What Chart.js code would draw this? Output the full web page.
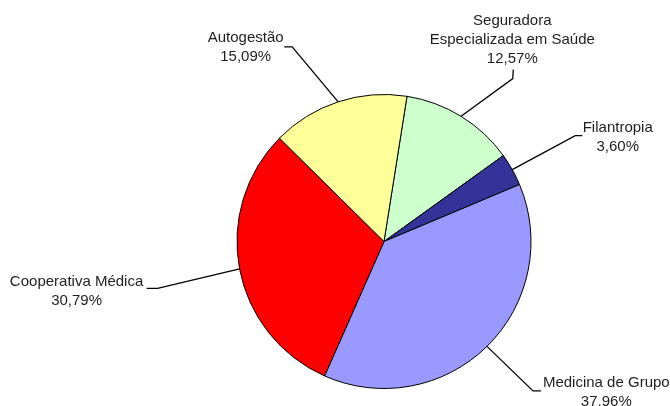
<!DOCTYPE html>
<html lang="pt-BR">
<head>
<meta charset="utf-8">
<title>Distribuição por modalidade</title>
<script src="https://cdn.jsdelivr.net/npm/chart.js@4"></script>
<style>
  html, body { margin: 0; padding: 0; background: #fff; }
  canvas { display: block; }
</style>
</head>
<body>
<canvas id="pieChart" width="670" height="406"></canvas>
<script>
// categories in clockwise order, starting just right of 12 o'clock
const categories = [
  ['Seguradora', 'Especializada em Saúde'],
  'Filantropia',
  'Medicina de Grupo',
  'Cooperativa Médica',
  'Autogestão'
];
const shares = [12.57, 3.60, 37.96, 30.79, 15.09];
const sliceColors = ['#ccffcc', '#333399', '#9999ff', '#ff0000', '#ffff99'];

// leader line geometry per slice, relative to the point on the rim at the slice's mid angle:
// elbow = bend of the line, tail = short end segment from the elbow,
// text = label centre x / first baseline, both relative to the elbow
const leaders = [
  { elbow: [51.7, -37.7], tail: [0.5, -9], text: [-0.5, -54] },
  { elbow: [63, -34], tail: [7, 0], text: [42.5, -3.4] },
  { elbow: [46, 44.5], tail: [8, 0], text: [73.3, -4] },
  { elbow: [-82, 19.4], tail: [-11, 0], text: [-81, -2.7] },
  { elbow: [-46, -55], tail: [-8, 0], text: [-46.5, -5] }
];

const fmtPct = v => v.toFixed(2).replace('.', ',') + '%';

const leaderLabels = {
  id: 'leaderLabels',
  afterDatasetsDraw(chart) {
    const ctx = chart.ctx;
    const meta = chart.getDatasetMeta(0);
    ctx.save();
    ctx.strokeStyle = '#000';
    ctx.lineWidth = 1.3;
    ctx.fillStyle = '#1e1e1e';
    ctx.font = '15px "Liberation Sans", Arial, sans-serif';
    ctx.textAlign = 'center';
    ctx.textBaseline = 'alphabetic';
    meta.data.forEach((arc, i) => {
      const { x, y, startAngle, endAngle, outerRadius } = arc.getProps(['x', 'y', 'startAngle', 'endAngle', 'outerRadius'], true);
      const mid = (startAngle + endAngle) / 2;
      const ex = x + Math.cos(mid) * outerRadius;
      const ey = y + Math.sin(mid) * outerRadius;
      const L = leaders[i];
      const bx = ex + L.elbow[0], by = ey + L.elbow[1];
      ctx.beginPath();
      ctx.moveTo(ex, ey);
      ctx.lineTo(bx, by);
      ctx.lineTo(bx + L.tail[0], by + L.tail[1]);
      ctx.stroke();

      const name = chart.data.labels[i];
      const lines = (Array.isArray(name) ? name : [name]).concat(fmtPct(shares[i]));
      lines.forEach((t, k) => {
        ctx.fillText(t, bx + L.text[0], by + L.text[1] + k * 19);
      });
    });
    ctx.restore();
  }
};

new Chart(document.getElementById('pieChart'), {
  type: 'pie',
  data: {
    labels: categories,
    datasets: [{
      data: shares,
      backgroundColor: sliceColors,
      borderColor: '#000',
      borderWidth: 1
    }]
  },
  options: {
    responsive: false,
    animation: false,
    rotation: 9,
    layout: {
      padding: { top: 94, bottom: 17, left: 236.5, right: 138.5 }
    },
    plugins: {
      legend: { display: false },
      tooltip: { enabled: false }
    }
  },
  plugins: [leaderLabels]
});
</script>
</body>
</html>
